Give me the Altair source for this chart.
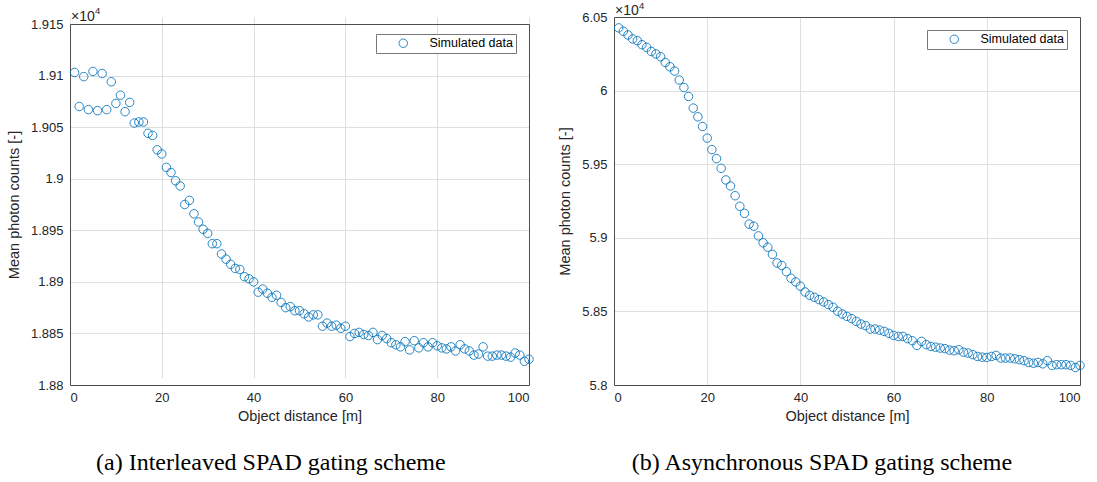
import altair as alt
import pandas as pd

# ---------------- data ----------------
distance = list(range(1, 101))

interleaved = [
    1.9103, 1.9070, 1.9099, 1.9067, 1.9104, 1.9066, 1.9102, 1.9067, 1.9094, 1.9073,
    1.9081, 1.9065, 1.9074, 1.9054, 1.9055, 1.9055, 1.9044, 1.9042, 1.9028, 1.9024,
    1.9011, 1.9006, 1.8998, 1.8993, 1.8975, 1.8979, 1.8966, 1.8958, 1.8951, 1.8947,
    1.8937, 1.8937, 1.8927, 1.8922, 1.8917, 1.8913, 1.8912, 1.8905, 1.8903, 1.8900,
    1.8890, 1.8893, 1.8889, 1.8885, 1.8887, 1.8880, 1.8875, 1.8876, 1.8872, 1.8872,
    1.8869, 1.8866, 1.8868, 1.8868, 1.8857, 1.8860, 1.8857, 1.8858, 1.8855, 1.8857,
    1.8847, 1.8850, 1.8851, 1.8849, 1.8848, 1.8851, 1.8844, 1.8848, 1.8845, 1.8841,
    1.8839, 1.8837, 1.8842, 1.8834, 1.8843, 1.8836, 1.8841, 1.8837, 1.8841, 1.8838,
    1.8836, 1.8835, 1.8837, 1.8833, 1.8839, 1.8835, 1.8833, 1.8829, 1.8830, 1.8837,
    1.8828, 1.8828, 1.8829, 1.8829, 1.8828, 1.8827, 1.8831, 1.8829, 1.8823, 1.8825,
]

asynchronous = [
    6.0426, 6.0403, 6.0378, 6.0351, 6.0339, 6.0312, 6.0294, 6.0266, 6.0249, 6.0230,
    6.0191, 6.0162, 6.0133, 6.0072, 6.0021, 5.9960, 5.9881, 5.9822, 5.9756, 5.9677,
    5.9599, 5.9538, 5.9472, 5.9393, 5.9352, 5.9286, 5.9214, 5.9166, 5.9093, 5.9079,
    5.9013, 5.8966, 5.8936, 5.8887, 5.8829, 5.8812, 5.8770, 5.8725, 5.8700, 5.8671,
    5.8632, 5.8609, 5.8596, 5.8580, 5.8564, 5.8546, 5.8528, 5.8501, 5.8482, 5.8466,
    5.8451, 5.8432, 5.8414, 5.8403, 5.8380, 5.8380, 5.8373, 5.8364, 5.8351, 5.8337,
    5.8330, 5.8330, 5.8315, 5.8301, 5.8269, 5.8296, 5.8274, 5.8262, 5.8257, 5.8251,
    5.8247, 5.8237, 5.8233, 5.8240, 5.8223, 5.8217, 5.8206, 5.8194, 5.8189, 5.8187,
    5.8194, 5.8201, 5.8183, 5.8183, 5.8183, 5.8178, 5.8172, 5.8165, 5.8153, 5.8148,
    5.8153, 5.8144, 5.8165, 5.8133, 5.8138, 5.8138, 5.8138, 5.8133, 5.8119, 5.8133,
]

x_ticks = [0, 20, 40, 60, 80, 100]
left_y_ticks = [1.88, 1.885, 1.89, 1.895, 1.9, 1.905, 1.91, 1.915]
right_y_ticks = [5.8, 5.85, 5.9, 5.95, 6.0, 6.05]
series_name = "Simulated data"
captions = ["(a) Interleaved SPAD gating scheme", "(b) Asynchronous SPAD gating scheme"]

BLUE = "#0072BD"
AX = "#262626"
FRAME = "#4d4d4d"
SANS = "Liberation Sans"
H = 368  # common plot-area height of both panels


def panel(values, ydom, yticks, yfmt, w, top, caption, exp_y, legend_xy):
    df = pd.DataFrame({"d": distance, "v": values, "s": series_name})
    base = alt.Chart(df)
    xscale = alt.Scale(domain=[0, 100], nice=False)
    yscale = alt.Scale(domain=ydom, nice=False, zero=False, range=[H, top])
    pts = base.mark_point(shape="circle", filled=False, size=72, strokeWidth=1,
                          opacity=0.85).encode(
        x=alt.X("d:Q", scale=xscale,
                axis=alt.Axis(values=x_ticks, title="Object distance [m]",
                              labelPadding=6, titlePadding=5)),
        y=alt.Y("v:Q", scale=yscale,
                axis=alt.Axis(values=yticks, format=yfmt,
                              title="Mean photon counts [-]",
                              labelPadding=7, titlePadding=9)),
        color=alt.Color("s:N", scale=alt.Scale(range=[BLUE]),
                        legend=alt.Legend(title=None, orient="none",
                                          legendX=legend_xy[0], legendY=legend_xy[1],
                                          strokeColor="#777777", fillColor="white",
                                          padding=3, symbolOffset=18, labelOffset=20,
                                          labelFont=SANS, labelFontSize=12.5,
                                          labelColor="#000000",
                                          symbolType="circle", symbolSize=72,
                                          symbolStrokeWidth=1)),
    )
    # box: top and right edges drawn as extra axes on the same scales
    frame = base.mark_point(opacity=0).encode(
        x=alt.X("d:Q", scale=xscale,
                axis=alt.Axis(orient="top", offset=-top, labels=False, ticks=False,
                              grid=False, title=None, domainColor=FRAME)),
        y=alt.Y("v:Q", scale=yscale,
                axis=alt.Axis(orient="right", labels=False, ticks=False,
                              grid=False, title=None, domainColor=FRAME)),
    )
    one = alt.Data(values=[{"k": 1}])
    times10 = alt.Chart(one).mark_text(align="left", baseline="alphabetic",
                                       font=SANS, fontSize=14, color=AX).encode(
        x=alt.value(1), y=alt.value(top + exp_y[0]), text=alt.value("×10"))
    sup = alt.Chart(one).mark_text(align="left", baseline="alphabetic",
                                   font=SANS, fontSize=9.5, color=AX).encode(
        x=alt.value(25), y=alt.value(top + exp_y[1]), text=alt.value("4"))
    return alt.layer(pts, frame, times10, sup).resolve_axis(
        x="independent", y="independent"
    ).properties(
        width=w, height=H,
        title=alt.TitleParams(text=caption, orient="bottom", anchor="middle",
                              frame="bounds", font="Liberation Serif", fontSize=24,
                              fontWeight="normal", color="#000000", offset=28),
    )


left = panel(interleaved, [1.88, 1.915], left_y_ticks, ".4~f", 459, 7,
             captions[0], (-3.5, -10.5), (306, 17))
right = panel(asynchronous, [5.8, 6.05], right_y_ticks, ".2~f", 466, 0,
              captions[1], (-2, -8), (313, 13))

chart = alt.hconcat(left, right, spacing=85, bounds="flush").resolve_scale(
    color="independent"
).resolve_legend(color="independent").configure(
    padding={"left": 5, "top": 0, "right": 0, "bottom": 0}
).configure_view(stroke="transparent").configure_axis(
    labelFont=SANS, labelFontSize=13, labelColor=AX,
    titleFont=SANS, titleFontSize=14.5, titleFontWeight="normal", titleColor=AX,
    domainColor=FRAME, domainWidth=1, ticks=False,
    gridColor="#dfdfdf", gridWidth=1,
)

chart.save("out.html", embed_options={"renderer": "svg", "actions": False})
